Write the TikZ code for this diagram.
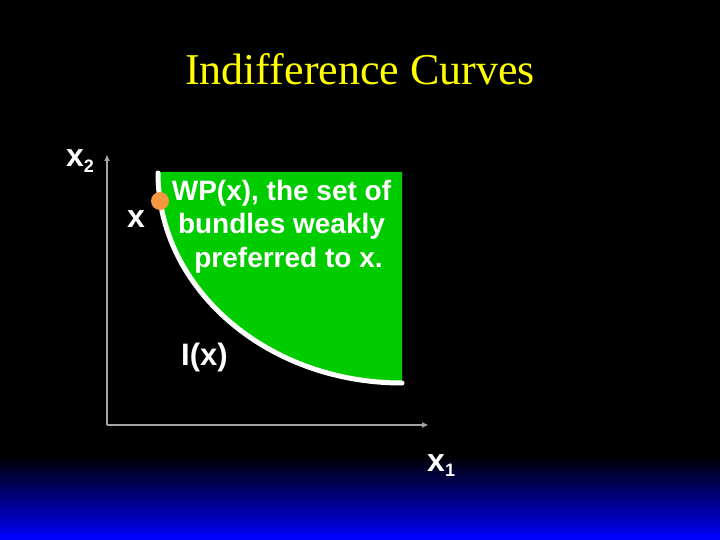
\documentclass[tikz,border=0pt]{standalone}
\usepackage{fontspec}
\setmainfont{Liberation Serif}
\newfontfamily\labfont{Liberation Sans}
\usetikzlibrary{arrows.meta}
\definecolor{wpgreen}{RGB}{0,204,0}
\definecolor{dotorange}{RGB}{245,150,65}
\definecolor{axisgray}{RGB}{165,165,165}
\definecolor{titleyellow}{RGB}{255,255,0}
\tikzset{
  lab/.style={text=white,font=\labfont\bfseries\fontsize{32}{34}\selectfont,inner sep=0pt},
  axisline/.style={draw=axisgray,line width=2pt,-{Triangle[length=6pt,width=5pt]}},
}
\begin{document}
\begin{tikzpicture}[x=1pt,y=-1pt]
\useasboundingbox (0,0) rectangle (720,540);
\fill[black] (0,0) rectangle (720,540);
\shade[top color=black,bottom color=blue,shading=axis] (0,456) rectangle (720,540);
\fill[blue] (0,534) rectangle (720,540);
% title
\node[text=titleyellow,font=\fontsize{44}{48}\selectfont,anchor=base,inner sep=0pt] (title) at (360,85) {Indifference Curves};
% axes
\coordinate (O) at (107,425);
\coordinate (ytop) at (107,155);
\coordinate (xend) at (428,425);
\draw[axisline] (O) -- (ytop);
\draw[axisline] (O) -- (xend);
% preferred set
\fill[wpgreen] (158,172) arc[start angle=180,end angle=270,x radius=244pt,y radius=211pt] -- (402,383) -- (402,172) -- cycle;
\draw[white,line width=5pt,line cap=round] (158,173) arc[start angle=180,end angle=270,x radius=244pt,y radius=210pt];
\node[circle,fill=dotorange,minimum size=18pt,inner sep=0pt] (xdot) at (160,201) {};
% labels
\node[lab,anchor=base west] (x2lab) at (66,167) {x\raisebox{-0.3ex}{\fontsize{18}{18}\selectfont 2}};
\node[lab,anchor=base west] (x1lab) at (427,471) {x\raisebox{-0.3ex}{\fontsize{18}{18}\selectfont 1}};
\node[lab,anchor=base west] (xlab) at (127,228) {x};
\node[lab,font=\labfont\bfseries\fontsize{31}{33}\selectfont,anchor=base west] (ilab) at (181,365) {I(x)};
\node[lab,font=\labfont\bfseries\fontsize{28}{33.5}\selectfont,align=center,anchor=base] (wp) at (281.5,267)
  {WP(x), the set of\\bundles weakly\\\hspace*{14pt}preferred to x.};
\end{tikzpicture}
\end{document}
